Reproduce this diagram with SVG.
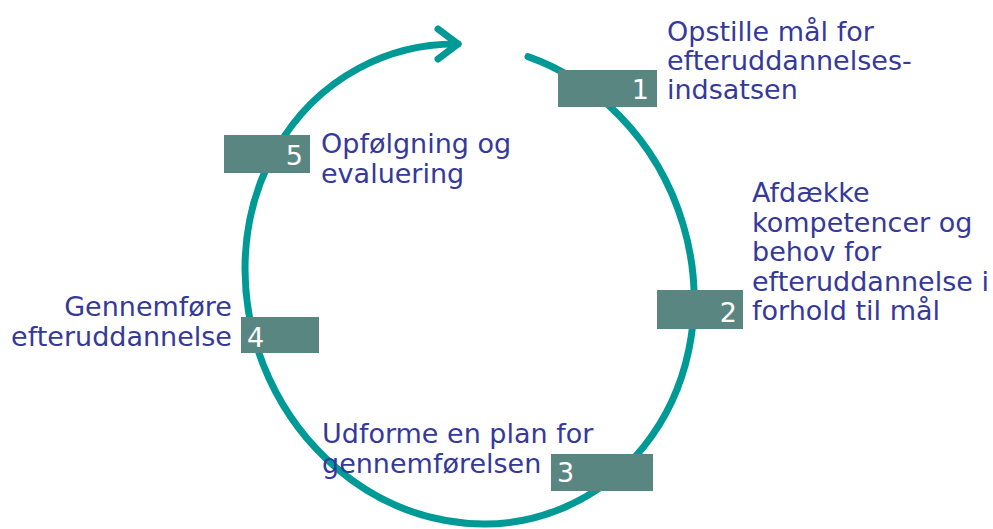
<svg xmlns="http://www.w3.org/2000/svg" width="993" height="529" viewBox="0 0 993 529">
  <style>
    .cycle { fill: none; stroke: #009a96; stroke-width: 7; stroke-linecap: round; stroke-linejoin: round; }
    .box { fill: #5a8682; }
    .num { fill: #ffffff; font-family: "DejaVu Sans", Verdana, sans-serif; font-size: 27px; }
    .label { fill: #35399a; font-family: "DejaVu Sans", Verdana, sans-serif; font-size: 27px; }
  </style>

  <!-- cycle loop: unit-circle arc mapped onto a slightly sheared ellipse, plus arrowhead -->
  <g id="connectors">
    <path class="cycle" vector-effect="non-scaling-stroke"
          transform="matrix(224.5 15 0 239.5 469.5 284)"
          d="M0.2606,-0.9655 A1,1 0 1 1 -0.0512,-0.9987"/>
    <polyline class="cycle" points="438,29 458,44 438,59"/>
  </g>

  <g id="step1">
    <rect class="box" x="558" y="70" width="99" height="37"/>
    <text class="num" x="649" y="99" text-anchor="end">1</text>
    <text class="label" x="667" y="40.5">Opstille mål for</text>
    <text class="label" x="667" y="69.5">efteruddannelses-</text>
    <text class="label" x="667" y="98.5">indsatsen</text>
  </g>

  <g id="step2">
    <rect class="box" x="657" y="290" width="86" height="39"/>
    <text class="num" x="737" y="322" text-anchor="end">2</text>
    <text class="label" x="752" y="202">Afdække</text>
    <text class="label" x="752" y="231.5">kompetencer og</text>
    <text class="label" x="752" y="261">behov for</text>
    <text class="label" x="752" y="290.5">efteruddannelse i</text>
    <text class="label" x="752" y="320">forhold til mål</text>
  </g>

  <g id="step3">
    <text class="label" x="322" y="443">Udforme en plan for</text>
    <text class="label" x="322" y="473">gennemførelsen</text>
    <rect class="box" x="551" y="454" width="102" height="37"/>
    <text class="num" x="557" y="482">3</text>
  </g>

  <g id="step4">
    <rect class="box" x="241" y="317" width="78" height="36"/>
    <text class="num" x="247" y="347">4</text>
    <text class="label" x="232" y="316" text-anchor="end">Gennemføre</text>
    <text class="label" x="232" y="346" text-anchor="end">efteruddannelse</text>
  </g>

  <g id="step5">
    <rect class="box" x="224" y="135" width="86" height="38"/>
    <text class="num" x="303" y="165" text-anchor="end">5</text>
    <text class="label" x="321" y="153">Opfølgning og</text>
    <text class="label" x="321" y="183">evaluering</text>
  </g>
</svg>
